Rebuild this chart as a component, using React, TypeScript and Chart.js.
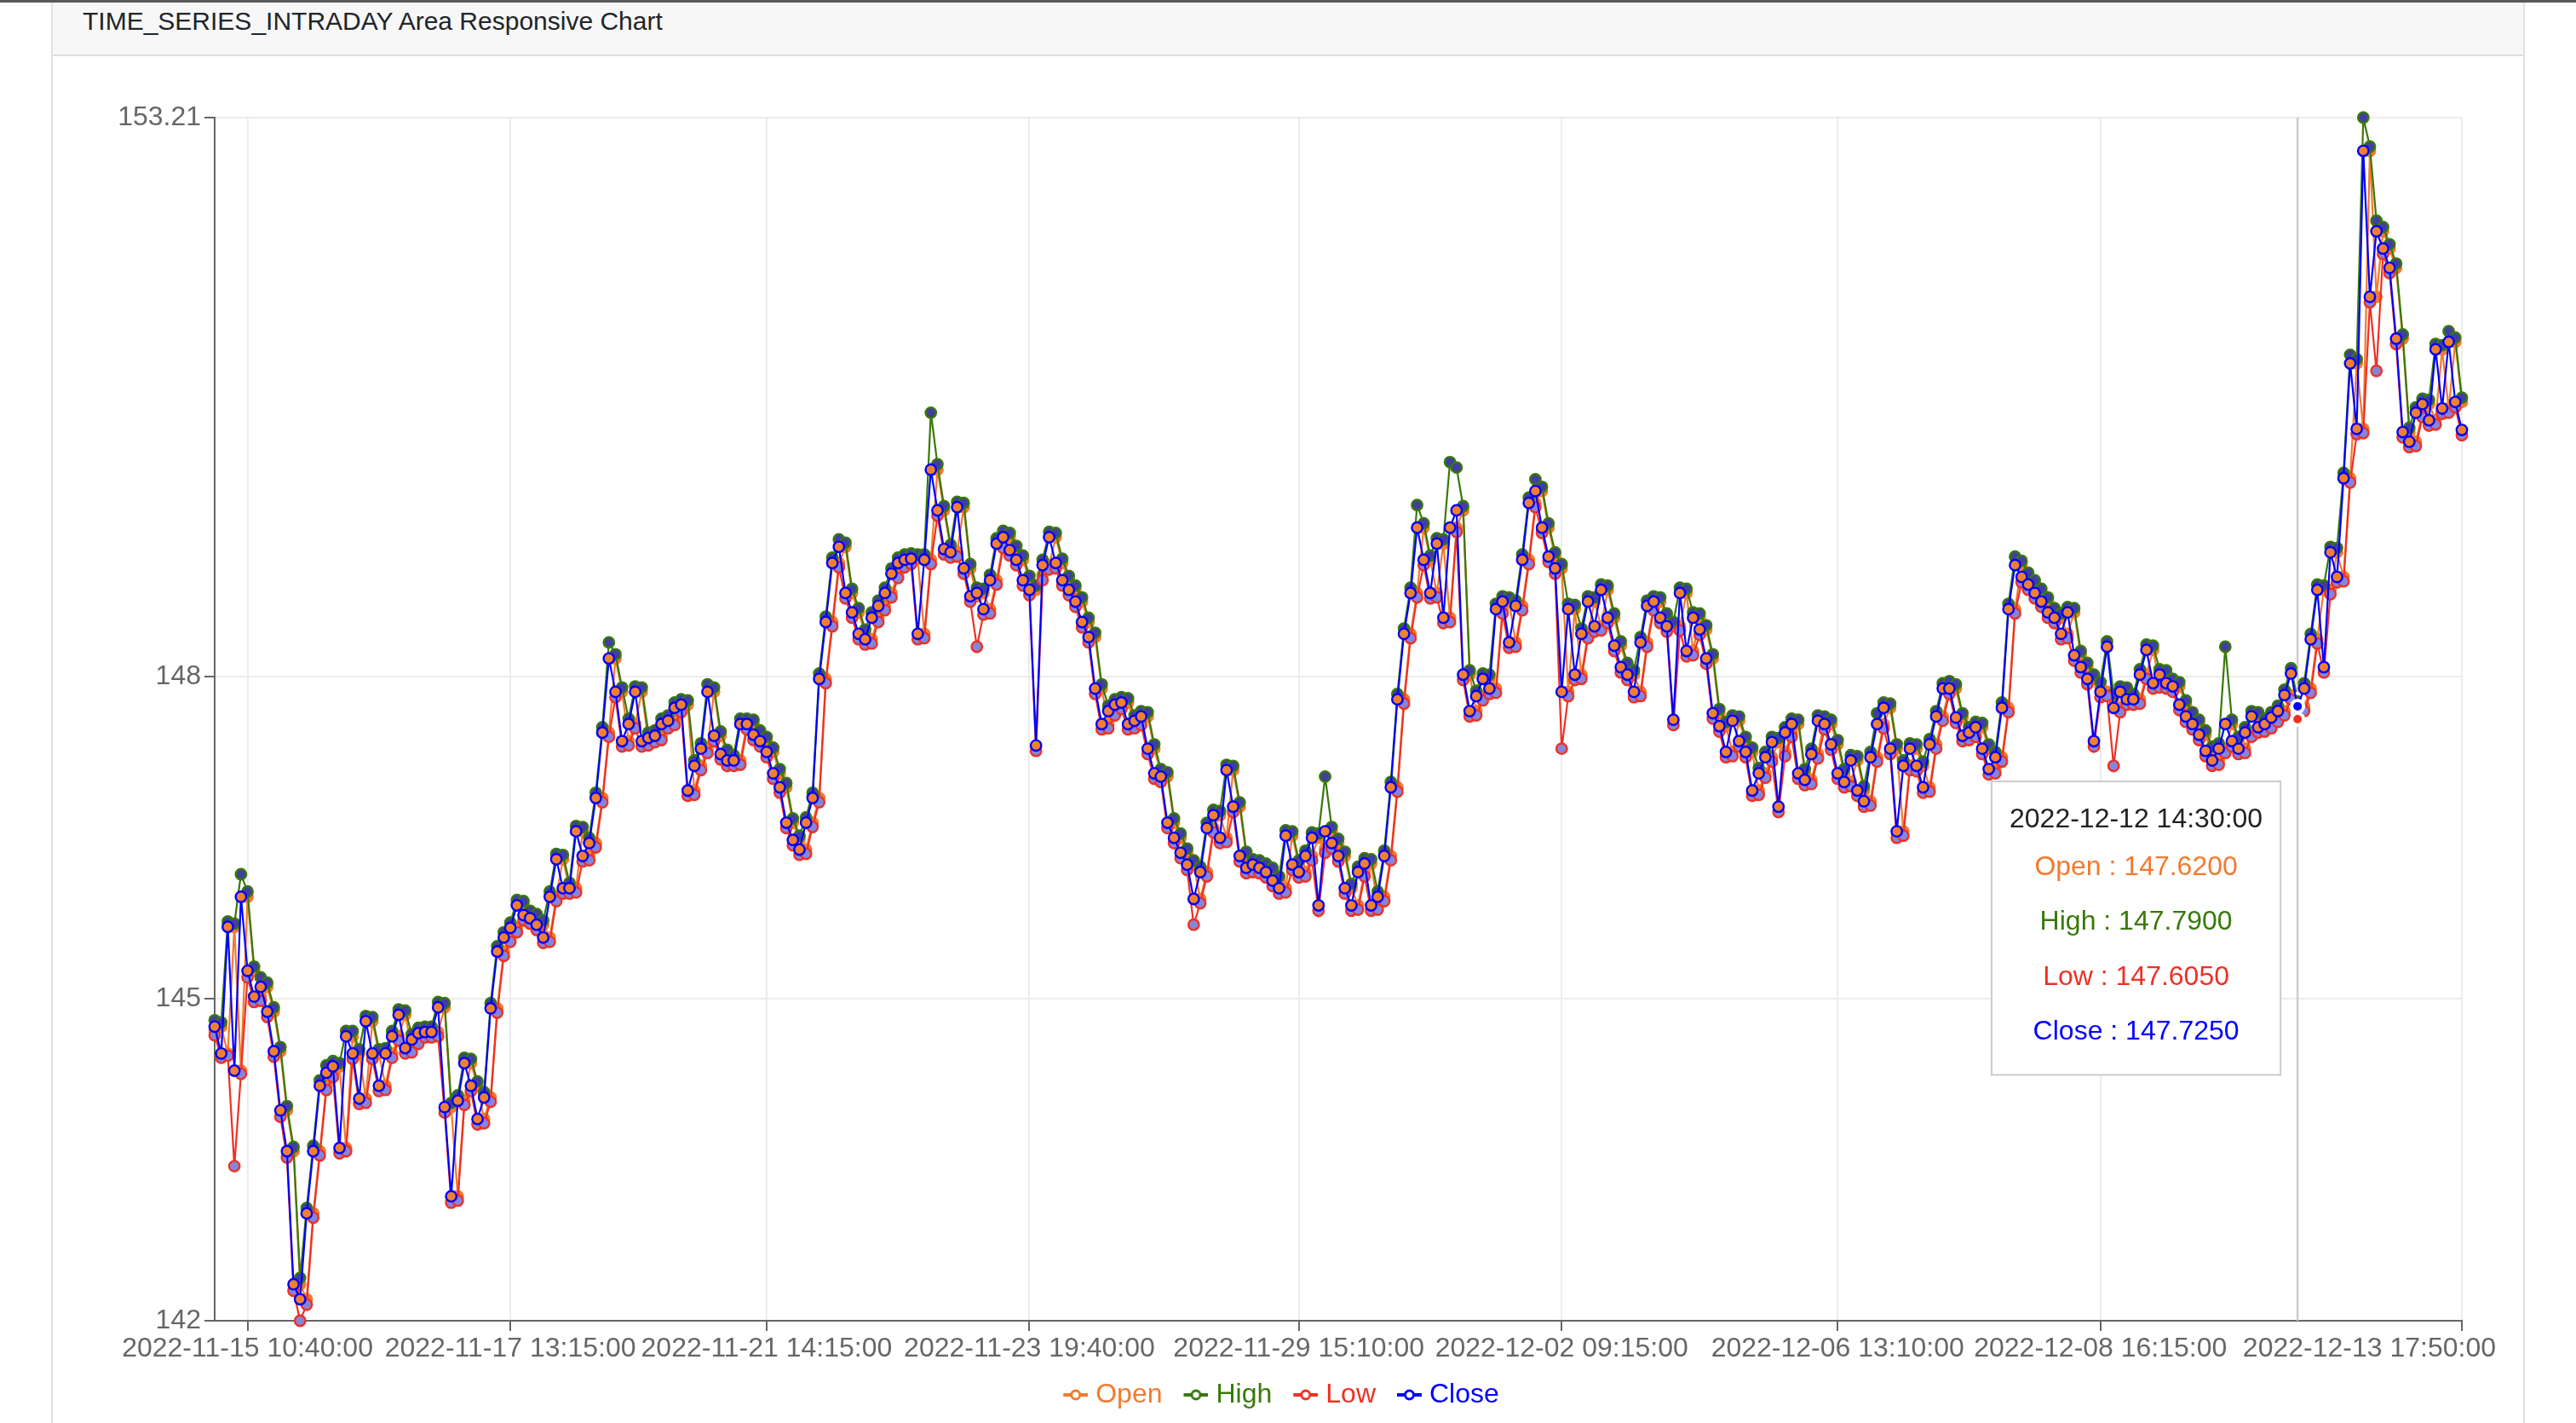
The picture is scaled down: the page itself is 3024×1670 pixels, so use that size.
import { useEffect, useRef } from 'react';
import { Chart, registerables, Tooltip } from 'chart.js';

Chart.register(...registerables);

const FONT = '"Liberation Sans", Arial, Helvetica, sans-serif';

// x axis: tick positions (point index) and their labels
const TICK_INDEX = [5, 45, 84, 124, 165, 205, 247, 287, 342];
const TICK_LABELS = [
    '2022-11-15 10:40:00',
    '2022-11-17 13:15:00',
    '2022-11-21 14:15:00',
    '2022-11-23 19:40:00',
    '2022-11-29 15:10:00',
    '2022-12-02 09:15:00',
    '2022-12-06 13:10:00',
    '2022-12-08 16:15:00',
    '2022-12-13 17:50:00',
];
const ACTIVE_INDEX = 317;
const ACTIVE_LABEL = '2022-12-12 14:30:00';

const Y_TICKS = [142, 145, 148, 153.21];

const OPEN = [
    144.70, 144.74, 144.49, 145.67, 144.33, 145.95, 145.26, 145.02, 145.11, 144.88,
    144.51, 143.96, 143.58, 142.34, 142.20, 143.00, 143.58, 144.19, 144.31, 144.37,
    143.61, 144.65, 144.49, 144.07, 144.79, 144.49, 144.19, 144.49, 144.65, 144.85,
    144.54, 144.62, 144.68, 144.69, 144.69, 144.92, 143.99, 143.16, 144.05, 144.40,
    144.19, 143.88, 144.08, 144.91, 145.44, 145.57, 145.66, 145.87, 145.78, 145.75,
    145.69, 145.57, 145.95, 146.30, 146.03, 146.03, 146.56, 146.33, 146.45, 146.87,
    147.48, 148.17, 147.86, 147.40, 147.56, 147.86, 147.40, 147.43, 147.45, 147.56,
    147.59, 147.71, 147.74, 146.94, 147.17, 147.33, 147.86, 147.45, 147.28, 147.22,
    147.22, 147.56, 147.56, 147.46, 147.40, 147.30, 147.10, 146.97, 146.64, 146.48,
    146.39, 146.64, 146.87, 147.98, 148.51, 149.06, 149.21, 148.78, 148.60, 148.40,
    148.35, 148.55, 148.66, 148.78, 148.96, 149.06, 149.09, 149.10, 148.40, 149.09,
    149.93, 149.55, 149.19, 149.16, 149.58, 149.01, 148.75, 148.78, 148.63, 148.90,
    149.24, 149.30, 149.18, 149.09, 148.90, 148.81, 148.95, 149.04, 149.30, 149.06,
    148.90, 148.81, 148.70, 148.51, 148.37, 147.89, 147.56, 147.68, 147.74, 147.76,
    147.56, 147.59, 147.63, 147.33, 147.10, 147.07, 146.64, 146.50, 146.36, 146.25,
    145.93, 146.18, 146.59, 146.71, 146.50, 147.13, 146.79, 146.33, 146.22, 146.25,
    146.22, 146.18, 146.10, 146.03, 146.52, 146.25, 146.18, 146.33, 146.50, 146.40,
    146.56, 146.45, 146.33, 146.03, 145.87, 146.18, 146.26, 145.87, 145.95, 146.33,
    146.97, 147.79, 148.40, 148.78, 149.39, 149.09, 148.78, 149.24, 148.55, 149.39,
    149.55, 148.02, 147.68, 147.82, 147.98, 147.89, 148.63, 148.70, 148.32, 148.66,
    149.09, 149.62, 149.73, 149.39, 149.12, 149.01, 147.86, 148.63, 148.02, 148.40,
    148.70, 148.47, 148.81, 148.55, 148.29, 148.09, 148.02, 147.86, 148.32, 148.66,
    148.70, 148.55, 148.47, 148.47, 148.78, 148.24, 148.55, 148.44, 148.17, 147.66,
    147.54, 147.30, 147.59, 147.40, 147.30, 146.94, 147.10, 147.25, 147.39, 147.30,
    147.48, 147.56, 147.10, 147.04, 147.28, 147.59, 147.56, 147.37, 147.10, 147.02,
    147.22, 146.94, 146.84, 147.25, 147.56, 147.71, 147.33, 146.56, 147.17, 147.33,
    147.17, 146.97, 147.37, 147.63, 147.89, 147.89, 147.62, 147.45, 147.48, 147.53,
    147.33, 147.14, 147.25, 147.71, 148.63, 149.04, 148.93, 148.86, 148.78, 148.70,
    148.60, 148.55, 148.40, 148.60, 148.20, 148.09, 147.98, 147.90, 147.86, 147.80,
    147.71, 147.86, 147.79, 147.79, 148.02, 148.25, 147.94, 148.02, 147.94, 147.91,
    147.74, 147.63, 147.56, 147.46, 147.31, 147.22, 147.33, 147.56, 147.40, 147.33,
    147.48, 147.63, 147.53, 147.56, 147.62, 147.68, 147.83, 147.62, 147.725, 147.89,
    148.35, 148.81, 148.81, 149.16, 148.93, 149.85, 150.92, 150.31, 152.90, 151.54,
    152.15, 151.99, 151.81, 151.15, 150.28, 150.19, 150.46, 150.54, 150.39, 151.05,
    150.50, 151.12, 150.56,
];

const HIGH = [
    144.80, 144.78, 145.72, 145.70, 146.16, 146.00, 145.30, 145.20, 145.15, 144.92,
    144.55, 144.00, 143.62, 142.40, 143.05, 143.63, 144.24, 144.38, 144.42, 144.40,
    144.70, 144.70, 144.53, 144.84, 144.83, 144.53, 144.54, 144.70, 144.90, 144.89,
    144.67, 144.73, 144.74, 144.74, 144.97, 144.96, 144.03, 144.10, 144.45, 144.44,
    144.23, 144.13, 144.96, 145.49, 145.62, 145.71, 145.92, 145.91, 145.82, 145.79,
    145.73, 146.00, 146.35, 146.34, 146.08, 146.61, 146.60, 146.50, 146.92, 147.53,
    148.32, 148.21, 147.90, 147.61, 147.91, 147.90, 147.48, 147.50, 147.61, 147.64,
    147.76, 147.79, 147.78, 147.22, 147.38, 147.93, 147.90, 147.49, 147.32, 147.27,
    147.61, 147.61, 147.60, 147.50, 147.44, 147.34, 147.14, 147.01, 146.68, 146.52,
    146.69, 146.92, 148.03, 148.56, 149.11, 149.28, 149.25, 148.82, 148.64, 148.44,
    148.60, 148.71, 148.83, 149.01, 149.11, 149.14, 149.15, 149.14, 149.14, 150.46,
    149.98, 149.59, 149.23, 149.63, 149.62, 149.05, 148.83, 148.82, 148.95, 149.29,
    149.36, 149.34, 149.22, 149.13, 148.94, 148.85, 149.09, 149.35, 149.34, 149.10,
    148.94, 148.85, 148.74, 148.55, 148.41, 147.93, 147.73, 147.79, 147.81, 147.80,
    147.64, 147.68, 147.67, 147.37, 147.14, 147.11, 146.68, 146.54, 146.40, 146.29,
    146.23, 146.64, 146.76, 146.75, 147.18, 147.17, 146.83, 146.37, 146.30, 146.29,
    146.26, 146.22, 146.14, 146.57, 146.56, 146.29, 146.38, 146.55, 146.54, 147.07,
    146.60, 146.49, 146.37, 146.07, 146.23, 146.31, 146.30, 146.00, 146.38, 147.02,
    147.84, 148.45, 148.83, 149.60, 149.43, 149.13, 149.29, 149.28, 150.00, 149.95,
    149.59, 148.06, 147.87, 148.03, 148.02, 148.68, 148.75, 148.74, 148.71, 149.14,
    149.67, 149.84, 149.77, 149.43, 149.16, 149.05, 148.68, 148.67, 148.45, 148.75,
    148.74, 148.86, 148.85, 148.59, 148.33, 148.13, 148.06, 148.37, 148.71, 148.75,
    148.74, 148.59, 148.51, 148.83, 148.82, 148.60, 148.59, 148.48, 148.21, 147.70,
    147.58, 147.64, 147.63, 147.44, 147.34, 147.15, 147.30, 147.44, 147.43, 147.53,
    147.61, 147.60, 147.14, 147.33, 147.64, 147.63, 147.60, 147.41, 147.14, 147.27,
    147.26, 146.98, 147.30, 147.66, 147.76, 147.75, 147.37, 147.22, 147.38, 147.37,
    147.21, 147.42, 147.68, 147.94, 147.96, 147.93, 147.66, 147.53, 147.58, 147.57,
    147.37, 147.30, 147.76, 148.68, 149.12, 149.08, 148.97, 148.90, 148.82, 148.74,
    148.64, 148.59, 148.65, 148.64, 148.24, 148.13, 148.02, 147.95, 148.33, 147.84,
    147.91, 147.90, 147.84, 148.07, 148.30, 148.29, 148.07, 148.06, 147.98, 147.95,
    147.78, 147.67, 147.60, 147.50, 147.35, 147.38, 148.28, 147.60, 147.44, 147.53,
    147.68, 147.67, 147.61, 147.67, 147.73, 147.88, 148.08, 147.79, 147.94, 148.40,
    148.86, 148.85, 149.21, 149.20, 149.90, 151.00, 150.96, 153.21, 152.94, 152.25,
    152.19, 152.03, 151.85, 151.19, 150.32, 150.51, 150.59, 150.58, 151.10, 151.09,
    151.22, 151.16, 150.60,
];

const LOW = [
    144.66, 144.45, 144.47, 143.44, 144.30, 145.20, 144.97, 144.98, 144.83, 144.46,
    143.90, 143.52, 142.28, 142.00, 142.15, 142.96, 143.54, 144.15, 144.27, 143.56,
    143.58, 144.44, 144.02, 144.03, 144.44, 144.14, 144.15, 144.45, 144.61, 144.49,
    144.50, 144.58, 144.64, 144.64, 144.65, 143.94, 143.10, 143.12, 144.01, 144.14,
    143.83, 143.84, 144.04, 144.87, 145.40, 145.53, 145.62, 145.73, 145.70, 145.64,
    145.52, 145.53, 145.91, 145.98, 145.98, 145.99, 146.28, 146.29, 146.41, 146.83,
    147.44, 147.81, 147.35, 147.36, 147.52, 147.35, 147.36, 147.39, 147.41, 147.52,
    147.55, 147.67, 146.89, 146.90, 147.13, 147.29, 147.40, 147.23, 147.17, 147.17,
    147.18, 147.51, 147.41, 147.35, 147.25, 147.05, 146.92, 146.59, 146.43, 146.34,
    146.35, 146.60, 146.83, 147.94, 148.47, 149.02, 148.73, 148.55, 148.35, 148.30,
    148.31, 148.51, 148.62, 148.74, 148.92, 149.02, 149.05, 148.35, 148.36, 149.05,
    149.50, 149.14, 149.11, 149.12, 148.96, 148.70, 148.28, 148.58, 148.59, 148.86,
    149.20, 149.13, 149.04, 148.85, 148.76, 147.31, 148.90, 149.00, 149.01, 148.85,
    148.76, 148.65, 148.46, 148.32, 147.84, 147.51, 147.52, 147.64, 147.70, 147.51,
    147.52, 147.55, 147.28, 147.05, 147.02, 146.59, 146.45, 146.31, 146.20, 145.69,
    145.89, 146.14, 146.55, 146.45, 146.46, 146.74, 146.28, 146.17, 146.18, 146.17,
    146.13, 146.05, 145.98, 145.99, 146.20, 146.13, 146.14, 146.29, 145.82, 146.36,
    146.40, 146.28, 145.98, 145.82, 145.83, 146.14, 145.82, 145.83, 145.91, 146.29,
    146.93, 147.75, 148.36, 148.74, 149.04, 148.73, 148.74, 148.50, 148.51, 149.35,
    147.97, 147.63, 147.64, 147.78, 147.84, 147.85, 148.59, 148.27, 148.28, 148.62,
    149.05, 149.58, 149.34, 149.07, 148.96, 147.33, 147.82, 147.97, 147.98, 148.36,
    148.42, 148.43, 148.50, 148.24, 148.04, 147.97, 147.81, 147.82, 148.28, 148.62,
    148.50, 148.42, 147.55, 148.43, 148.19, 148.20, 148.39, 148.12, 147.61, 147.49,
    147.25, 147.26, 147.35, 147.25, 146.89, 146.90, 147.06, 147.21, 146.74, 147.26,
    147.44, 147.05, 146.99, 147.00, 147.24, 147.51, 147.32, 147.05, 146.97, 146.98,
    146.89, 146.79, 146.80, 147.21, 147.52, 147.28, 146.50, 146.52, 147.13, 147.12,
    146.92, 146.93, 147.33, 147.59, 147.84, 147.57, 147.40, 147.41, 147.44, 147.28,
    147.09, 147.10, 147.21, 147.67, 148.59, 148.88, 148.81, 148.73, 148.65, 148.55,
    148.50, 148.35, 148.36, 148.15, 148.04, 147.93, 147.35, 147.81, 147.82, 147.17,
    147.67, 147.74, 147.74, 147.75, 147.98, 147.89, 147.90, 147.89, 147.86, 147.69,
    147.58, 147.51, 147.41, 147.26, 147.17, 147.18, 147.29, 147.35, 147.28, 147.29,
    147.44, 147.48, 147.49, 147.52, 147.58, 147.64, 147.79, 147.605, 147.68, 147.85,
    148.31, 148.04, 148.77, 148.88, 148.89, 149.81, 150.26, 150.27, 151.49, 150.85,
    151.94, 151.76, 151.10, 150.23, 150.14, 150.15, 150.42, 150.34, 150.35, 150.45,
    150.46, 150.51, 150.25,
];

const CLOSE = [
    144.74, 144.49, 145.67, 144.33, 145.95, 145.26, 145.02, 145.11, 144.88, 144.51,
    143.96, 143.58, 142.34, 142.20, 143.00, 143.58, 144.19, 144.31, 144.37, 143.61,
    144.65, 144.49, 144.07, 144.79, 144.49, 144.19, 144.49, 144.65, 144.85, 144.54,
    144.62, 144.68, 144.69, 144.69, 144.92, 143.99, 143.16, 144.05, 144.40, 144.19,
    143.88, 144.08, 144.91, 145.44, 145.57, 145.66, 145.87, 145.78, 145.75, 145.69,
    145.57, 145.95, 146.30, 146.03, 146.03, 146.56, 146.33, 146.45, 146.87, 147.48,
    148.17, 147.86, 147.40, 147.56, 147.86, 147.40, 147.43, 147.45, 147.56, 147.59,
    147.71, 147.74, 146.94, 147.17, 147.33, 147.86, 147.45, 147.28, 147.22, 147.22,
    147.56, 147.56, 147.46, 147.40, 147.30, 147.10, 146.97, 146.64, 146.48, 146.39,
    146.64, 146.87, 147.98, 148.51, 149.06, 149.21, 148.78, 148.60, 148.40, 148.35,
    148.55, 148.66, 148.78, 148.96, 149.06, 149.09, 149.10, 148.40, 149.09, 149.93,
    149.55, 149.19, 149.16, 149.58, 149.01, 148.75, 148.78, 148.63, 148.90, 149.24,
    149.30, 149.18, 149.09, 148.90, 148.81, 147.36, 149.04, 149.30, 149.06, 148.90,
    148.81, 148.70, 148.51, 148.37, 147.89, 147.56, 147.68, 147.74, 147.76, 147.56,
    147.59, 147.63, 147.33, 147.10, 147.07, 146.64, 146.50, 146.36, 146.25, 145.93,
    146.18, 146.59, 146.71, 146.50, 147.13, 146.79, 146.33, 146.22, 146.25, 146.22,
    146.18, 146.10, 146.03, 146.52, 146.25, 146.18, 146.33, 146.50, 145.87, 146.56,
    146.45, 146.33, 146.03, 145.87, 146.18, 146.26, 145.87, 145.95, 146.33, 146.97,
    147.79, 148.40, 148.78, 149.39, 149.09, 148.78, 149.24, 148.55, 149.39, 149.55,
    148.02, 147.68, 147.82, 147.98, 147.89, 148.63, 148.70, 148.32, 148.66, 149.09,
    149.62, 149.73, 149.39, 149.12, 149.01, 147.86, 148.63, 148.02, 148.40, 148.70,
    148.47, 148.81, 148.55, 148.29, 148.09, 148.02, 147.86, 148.32, 148.66, 148.70,
    148.55, 148.47, 147.60, 148.78, 148.24, 148.55, 148.44, 148.17, 147.66, 147.54,
    147.30, 147.59, 147.40, 147.30, 146.94, 147.10, 147.25, 147.39, 146.79, 147.48,
    147.56, 147.10, 147.04, 147.28, 147.59, 147.56, 147.37, 147.10, 147.02, 147.22,
    146.94, 146.84, 147.25, 147.56, 147.71, 147.33, 146.56, 147.17, 147.33, 147.17,
    146.97, 147.37, 147.63, 147.89, 147.89, 147.62, 147.45, 147.48, 147.53, 147.33,
    147.14, 147.25, 147.71, 148.63, 149.04, 148.93, 148.86, 148.78, 148.70, 148.60,
    148.55, 148.40, 148.60, 148.20, 148.09, 147.98, 147.40, 147.86, 148.28, 147.71,
    147.86, 147.79, 147.79, 148.02, 148.25, 147.94, 148.02, 147.94, 147.91, 147.74,
    147.63, 147.56, 147.46, 147.31, 147.22, 147.33, 147.56, 147.40, 147.33, 147.48,
    147.63, 147.53, 147.56, 147.62, 147.68, 147.83, 148.03, 147.725, 147.89, 148.35,
    148.81, 148.09, 149.16, 148.93, 149.85, 150.92, 150.31, 152.90, 151.54, 152.15,
    151.99, 151.81, 151.15, 150.28, 150.19, 150.46, 150.54, 150.39, 151.05, 150.50,
    151.12, 150.56, 150.30,
];

const SERIES = [
    { label: 'Open', data: OPEN, color: '#f27a2e', fill: '#f27a2e' },
    { label: 'High', data: HIGH, color: '#387908', fill: '#413ea0' },
    { label: 'Low', data: LOW, color: '#ee3124', fill: '#8884d8' },
    { label: 'Close', data: CLOSE, color: '#0000ff', fill: '#f0802f' },
];

(Tooltip.positioners as any).besidePoint = function (items: any[]) {
    if (!items.length) return false;
    const el = items[items.length - 1].element;
    return { x: el.x - 20, y: el.y + 88, xAlign: 'right', yAlign: 'top' };
};

function legendIcon(color: string) {
    const c = document.createElement('canvas');
    c.width = 42;
    c.height = 18;
    const g = c.getContext('2d')!;
    g.strokeStyle = color;
    g.lineWidth = 4;
    g.beginPath();
    g.moveTo(13, 9);
    g.lineTo(42, 9);
    g.stroke();
    g.beginPath();
    g.arc(27.5, 9, 5, 0, Math.PI * 2);
    g.fillStyle = '#fff';
    g.fill();
    g.lineWidth = 3;
    g.stroke();
    return c;
}

const cursorPlugin = {
    id: 'cursorLine',
    beforeDatasetsDraw(chart: any) {
        const x = chart.scales.x.getPixelForValue(ACTIVE_INDEX);
        const { top, bottom } = chart.chartArea;
        const ctx = chart.ctx;
        ctx.save();
        ctx.strokeStyle = '#cccccc';
        ctx.lineWidth = 2.5;
        ctx.beginPath();
        ctx.moveTo(x, top);
        ctx.lineTo(x, bottom);
        ctx.stroke();
        ctx.restore();
    },
};

// last tick label is pulled inside the canvas, like the original
const endLabelPlugin = {
    id: 'endLabel',
    afterDraw(chart: any) {
        const scale = chart.scales.x;
        const items = scale.getLabelItems();
        if (!items.length) return;
        const ref = items[0];
        const ctx = chart.ctx;
        ctx.save();
        ctx.font = `32px ${FONT}`;
        ctx.fillStyle = '#666666';
        ctx.textAlign = 'right';
        ctx.textBaseline = ref.options.textBaseline;
        ctx.fillText(TICK_LABELS[TICK_LABELS.length - 1], chart.chartArea.right + 40, ref.options.translation[1] + ref.textOffset);
        ctx.restore();
    },
};

function IntradayChart() {
    const canvasRef = useRef<HTMLCanvasElement>(null);

    useEffect(() => {
        if (!canvasRef.current) return;
        const icons = SERIES.map(s => legendIcon(s.color));
        const font = { family: FONT, size: 32 };

        const chart = new Chart(canvasRef.current, {
            type: 'line',
            data: {
                labels: CLOSE.map((_, i) => i),
                datasets: SERIES.map((s, i) => ({
                    label: s.label,
                    data: s.data,
                    borderColor: s.color,
                    backgroundColor: s.fill,
                    borderWidth: 2.2,
                    pointRadius: 6.2,
                    pointBorderWidth: 2.4,
                    pointBackgroundColor: s.fill,
                    pointBorderColor: s.color,
                    pointHoverRadius: 7,
                    pointHoverBorderWidth: 4,
                    pointHoverBackgroundColor: s.color,
                    pointHoverBorderColor: '#ffffff',
                    tension: 0,
                    fill: false,
                    clip: false as any,
                    order: SERIES.length - i,
                })),
            },
            options: {
                responsive: true,
                maintainAspectRatio: false,
                animation: false,
                events: [],
                layout: { padding: { top: 72, right: 70, bottom: 23, left: 50 } },
                plugins: {
                    legend: {
                        position: 'bottom',
                        labels: {
                            usePointStyle: true,
                            pointStyleWidth: 28,
                            padding: 19,
                            font,
                            generateLabels: () =>
                                SERIES.map((s, i) => ({
                                    text: s.label,
                                    fontColor: s.color,
                                    pointStyle: icons[i],
                                    datasetIndex: i,
                                    hidden: false,
                                    lineWidth: 0,
                                    strokeStyle: 'rgba(0,0,0,0)',
                                    fillStyle: 'rgba(0,0,0,0)',
                                })) as any,
                        },
                    },
                    tooltip: {
                        enabled: true,
                        position: 'besidePoint' as any,
                        xAlign: 'right',
                        yAlign: 'top',
                        caretSize: 0,
                        caretPadding: 0,
                        cornerRadius: 0,
                        backgroundColor: '#ffffff',
                        borderColor: '#cccccc',
                        borderWidth: 2,
                        displayColors: false,
                        titleColor: '#222222',
                        titleFont: { family: FONT, size: 32, weight: 'normal' },
                        bodyFont: font,
                        titleAlign: 'center',
                        bodyAlign: 'center',
                        titleMarginBottom: 17.6,
                        bodySpacing: 26,
                        padding: { top: 26, bottom: 31, left: 21, right: 21 },
                        itemSort: (a, b) => a.datasetIndex - b.datasetIndex,
                        callbacks: {
                            title: items => (items.length && items[0].dataIndex === ACTIVE_INDEX ? ACTIVE_LABEL : ''),
                            label: item => `${item.dataset.label} : ${Number(item.parsed.y).toFixed(4)}`,
                            labelTextColor: item => SERIES[item.datasetIndex].color,
                        },
                    },
                },
                scales: {
                    x: {
                        type: 'linear',
                        min: 0,
                        max: CLOSE.length - 1,
                        afterBuildTicks: (s: any) => {
                            s.ticks = TICK_INDEX.map(v => ({ value: v }));
                        },
                        afterFit: (s: any) => {
                            s.height = 52;
                        },
                        ticks: {
                            autoSkip: false,
                            maxRotation: 0,
                            minRotation: 0,
                            padding: 2,
                            color: '#666666',
                            font,
                            callback: (v: any) => {
                                const k = TICK_INDEX.indexOf(Number(v));
                                return k >= 0 && k < TICK_INDEX.length - 1 ? TICK_LABELS[k] : '';
                            },
                        },
                        grid: { color: '#ececec', lineWidth: 2, tickColor: '#666666', tickLength: 12, tickWidth: 2 },
                        border: { color: '#666666', width: 2 },
                    },
                    y: {
                        min: 142,
                        max: 153.21,
                        afterBuildTicks: (s: any) => {
                            s.ticks = Y_TICKS.map(v => ({ value: v }));
                        },
                        afterFit: (s: any) => {
                            s.width = 140;
                        },
                        ticks: {
                            padding: 4,
                            color: '#666666',
                            font,
                            callback: (v: any) => String(v),
                        },
                        grid: { color: '#ececec', lineWidth: 2, tickColor: '#666666', tickLength: 12, tickWidth: 2 },
                        border: { color: '#666666', width: 2 },
                    },
                },
            },
            plugins: [cursorPlugin, endLabelPlugin],
        });

        const active = SERIES.map((_, i) => ({ datasetIndex: i, index: ACTIVE_INDEX }));
        chart.setActiveElements(active);
        const el: any = chart.getDatasetMeta(SERIES.length - 1).data[ACTIVE_INDEX];
        chart.tooltip?.setActiveElements(active, { x: el.x, y: el.y });
        chart.update();

        return () => {
            chart.destroy();
        };
    }, []);

    return <canvas ref={canvasRef} />;
}

export default function App() {
    return (
        <div style={{ position: 'fixed', left: 0, top: 0, width: 3024, height: 1670, overflow: 'hidden', background: '#ffffff', fontFamily: FONT }}>
            <div style={{ position: 'absolute', left: 0, top: 0, width: 3024, height: 3, background: '#5a5a5a' }} />
            <div
                style={{
                    position: 'absolute',
                    left: 60,
                    top: 3,
                    width: 2900,
                    height: 1720,
                    borderLeft: '2px solid #e2e2e2',
                    borderRight: '2px solid #e2e2e2',
                }}
            >
                <div
                    style={{
                        height: 63,
                        background: '#f7f7f7',
                        borderBottom: '2px solid #dcdcdc',
                        boxSizing: 'border-box',
                        paddingLeft: 35,
                        fontSize: 30,
                        lineHeight: '44px',
                        color: '#212529',
                    }}
                >
                    TIME_SERIES_INTRADAY Area Responsive Chart
                </div>
            </div>
            <div style={{ position: 'absolute', left: 62, top: 66, width: 2898, height: 1620 }}>
                <IntradayChart />
            </div>
        </div>
    );
}
